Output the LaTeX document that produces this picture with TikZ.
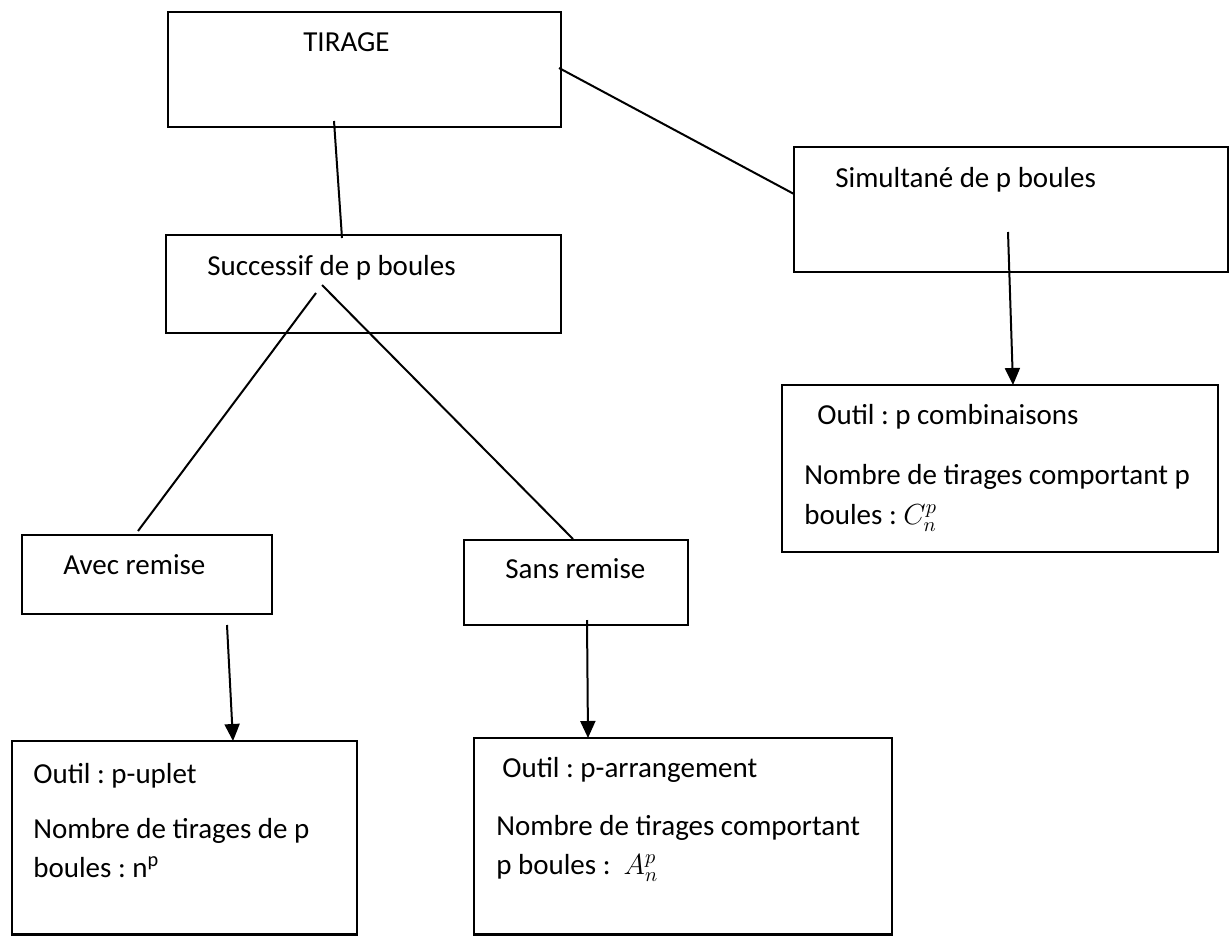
\documentclass[tikz,border=0pt]{standalone}
\usepackage{fix-cm}
\usepackage{amsmath}
\usepackage{fontspec}
\setmainfont{Carlito}
\usetikzlibrary{arrows.meta}
\frenchspacing

\tikzset{
  boite/.style={draw,rectangle,line width=0.055cm,anchor=north west,inner sep=0pt,outer sep=0pt},
  texte/.style={anchor=base west,inner sep=0pt,font=\fontsize{16.5}{22}\selectfont},
  lien/.style={line width=0.04cm},
  fleche/.style={line width=0.04cm,-{Triangle[length=0.34cm,width=0.30cm]}}
}

\begin{document}
\begin{tikzpicture}[x=0.02cm,y=-0.02cm]
\useasboundingbox (0,0) rectangle (1230,936);

% les boites
\node[boite,minimum width=7.86cm,minimum height=2.30cm] (tirage) at (168,12) {};
\node[boite,minimum width=7.90cm,minimum height=1.96cm] (successif) at (166,235) {};
\node[boite,minimum width=8.68cm,minimum height=2.50cm] (simultane) at (794,147) {};
\node[boite,minimum width=8.72cm,minimum height=3.34cm] (combinaison) at (782,385) {};
\node[boite,minimum width=5.00cm,minimum height=1.58cm] (avec) at (22,535) {};
\node[boite,minimum width=4.48cm,minimum height=1.70cm] (sans) at (464,540) {};
\node[boite,minimum width=6.90cm,minimum height=3.87cm] (uplet) at (12,741) {};
\node[boite,minimum width=8.36cm,minimum height=3.93cm] (arrangement) at (474,738) {};

% les textes
\node[texte] (tirageT) at (303,52) {TIRAGE};
\node[texte] (successifT) at (207,275) {Successif de p boules};
\node[texte] (simultaneT) at (835,187) {Simultané de p boules};
\node[texte] (combinaisonT) at (817,424) {Outil : p combinaisons};
\node[texte] (combinaisonN) at (804,484) {Nombre de tirages comportant p};
\node[texte] (combinaisonB) at (804,524) {boules : $C_n^p$};
\node[texte] (avecT) at (63,574) {Avec remise};
\node[texte] (sansT) at (505,578) {Sans remise};
\node[texte] (upletT) at (33,783) {Outil : p-uplet};
\node[texte] (upletN) at (33,838) {Nombre de tirages de p};
\node[texte] (upletB) at (33,877) {boules : n\textsuperscript{p}};
\node[texte] (arrangementT) at (502,777) {Outil : p-arrangement};
\node[texte] (arrangementN) at (496,835) {Nombre de tirages comportant};
\node[texte] (arrangementB) at (496,874) {p boules :\ \ $A_n^p$};

% extremites des traits
\coordinate (tirageS) at (334,121);
\coordinate (tirageE) at (559,68);
\coordinate (successifN) at (342,238);
\coordinate (successifG) at (316,293);
\coordinate (successifD) at (322,285);
\coordinate (simultaneO) at (794,194);
\coordinate (simultaneS) at (1008,232);
\coordinate (combinaisonN0) at (1013,385);
\coordinate (avecN) at (138,531);
\coordinate (avecS) at (227,625);
\coordinate (sansN) at (573,539);
\coordinate (sansS) at (587,620);
\coordinate (upletN0) at (233,741);
\coordinate (arrangementN0) at (588,738);

\draw[lien] (tirageS) -- (successifN);
\draw[lien] (tirageE) -- (simultaneO);
\draw[lien] (successifG) -- (avecN);
\draw[lien] (successifD) -- (sansN);
\draw[fleche] (simultaneS) -- (combinaisonN0);
\draw[fleche] (avecS) -- (upletN0);
\draw[fleche] (sansS) -- (arrangementN0);
\end{tikzpicture}
\end{document}
